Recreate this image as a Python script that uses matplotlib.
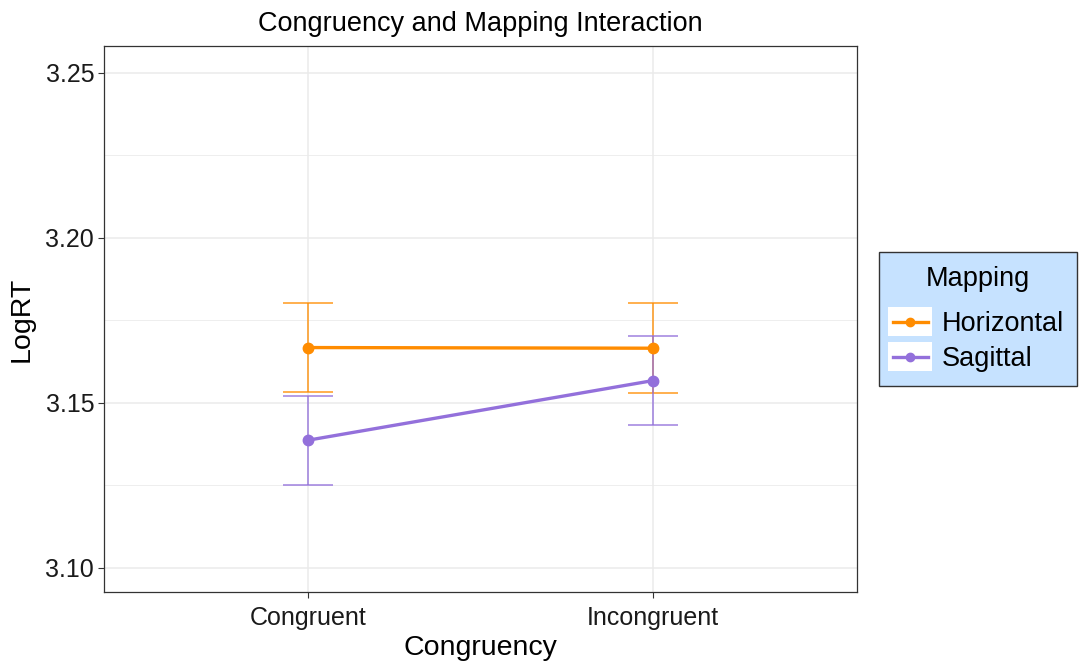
import matplotlib.pyplot as plt
from matplotlib.legend_handler import HandlerLine2D
from matplotlib.lines import Line2D
from matplotlib.patches import Rectangle

plt.rcParams['font.family'] = ['Liberation Sans', 'DejaVu Sans']

conditions = ['Congruent', 'Incongruent']
mappings = ['Horizontal', 'Sagittal']
mean_logrt = {
    'Horizontal': [3.1667, 3.1665],
    'Sagittal': [3.1386, 3.1567],
}
se_logrt = {
    'Horizontal': [0.0136, 0.0136],
    'Sagittal': [0.0135, 0.0136],
}
colors = {'Horizontal': '#FF8C00', 'Sagittal': '#9370DB'}


class KeyHandler(HandlerLine2D):
    # legend key with a white background like ggplot's legend.key
    def create_artists(self, legend, orig_handle, xdescent, ydescent,
                       width, height, fontsize, trans):
        artists = super().create_artists(legend, orig_handle, xdescent, ydescent,
                                         width, height, fontsize, trans)
        gap = legend.labelspacing * fontsize / 2 + 0.5
        bg = Rectangle((-xdescent - 3, -ydescent - gap), width + 6, height + 2 * gap,
                       facecolor='white', edgecolor='none', transform=trans)
        return [bg] + list(artists)


fig = plt.figure(figsize=(10.84, 6.66), dpi=100)
ax = fig.add_axes([0.0959, 0.1111, 0.6947, 0.8198])

x = list(range(1, len(conditions) + 1))
for m in mappings:
    c = colors[m]
    ax.errorbar(x, mean_logrt[m], yerr=se_logrt[m], fmt='none', ecolor=c,
                alpha=0.75, elinewidth=1.3, capsize=18, capthick=1.3, zorder=3)
    ax.plot(x, mean_logrt[m], color=c, linewidth=2.4, marker='o',
            markersize=7.5, zorder=4, label=m)

ax.set_xlim(0.41, 2.59)
ax.set_ylim(3.0926, 3.2581)
ax.set_xticks(x)
ax.set_xticklabels(conditions)
ax.set_yticks([3.10, 3.15, 3.20, 3.25])
ax.set_yticks([3.125, 3.175, 3.225], minor=True)
ax.set_yticklabels(['3.10', '3.15', '3.20', '3.25'])

ax.grid(True, which='major', color='#EBEBEB', linewidth=1.1)
ax.grid(True, which='minor', axis='y', color='#EBEBEB', linewidth=0.6)
ax.set_axisbelow(True)
ax.tick_params(axis='both', which='major', labelsize=18, colors='#333333',
               length=4, width=0.8, labelcolor='#1a1a1a', pad=3)
ax.tick_params(axis='x', which='major', pad=6)
ax.tick_params(axis='y', which='minor', length=0)
for s in ax.spines.values():
    s.set_color('#333333')
    s.set_linewidth(0.9)

ax.set_xlabel('Congruency', fontsize=20.5, labelpad=4)
ax.set_ylabel('LogRT', fontsize=20.5, labelpad=8)
ax.set_title('Congruency and Mapping Interaction', fontsize=19.5, pad=11)

handles = [Line2D([], [], color=colors[m], linewidth=2.4, marker='o', markersize=6)
           for m in mappings]
leg = fig.legend(handles, mappings, title='Mapping', loc='center left',
                 bbox_to_anchor=(0.811, 0.521), fontsize=19.5, title_fontsize=19.5,
                 handlelength=1.3, handletextpad=0.5, labelspacing=0.32,
                 borderpad=0.5, borderaxespad=0.0, fancybox=False, framealpha=1,
                 handler_map={Line2D: KeyHandler()})
leg._legend_box.sep = 14  # extra room under the legend title
leg.get_frame().set_facecolor('#C6E2FF')
leg.get_frame().set_edgecolor('#333333')
leg.get_frame().set_linewidth(1.0)

fig.savefig('out.png', dpi=100)
